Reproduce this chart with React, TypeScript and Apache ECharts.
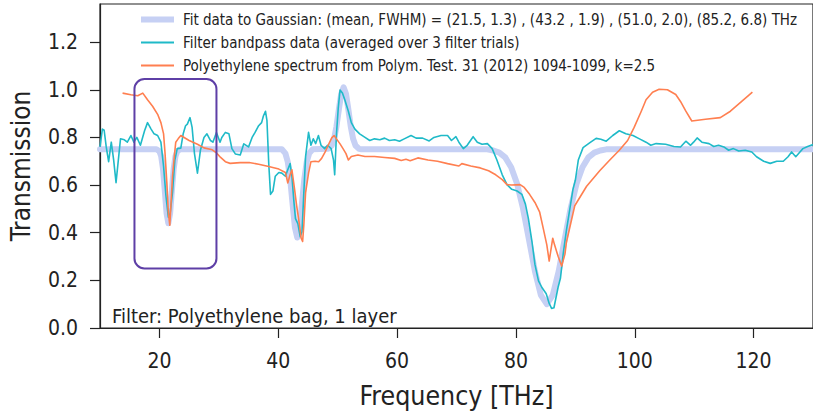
import React, { useEffect, useRef } from "react";
import * as echarts from "echarts";

const FONT = "'DejaVu Sans Condensed', 'DejaVu Sans', sans-serif";

const FIT_NAME = "Fit data to Gaussian: (mean, FWHM) = (21.5, 1.3) , (43.2 , 1.9) , (51.0, 2.0), (85.2, 6.8) THz";
const FILTER_NAME = "Filter bandpass data (averaged over 3 filter trials)";
const PE_NAME = "Polyethylene spectrum from Polym. Test. 31 (2012) 1094-1099, k=2.5";
const NOTE = "Filter: Polyethylene bag, 1 layer";

const xTicks = [20, 40, 60, 80, 100, 120];
const yTicks = [0, 0.2, 0.4, 0.6, 0.8, 1.0, 1.2];

// Gaussian fit curve
const fitFreq = [10, 19.5, 20.0, 20.3, 20.6, 20.9, 21.2, 21.5, 21.8, 22.1, 22.4, 22.7, 23.0, 23.5,
  40.6, 41.2, 41.6, 42.0, 42.4, 42.8, 43.2, 43.6, 44.0, 44.4, 44.8, 45.2, 45.8,
  48.4, 49.0, 49.4, 49.8, 50.2, 50.6, 51.0, 51.4, 51.8, 52.2, 52.6, 53.0, 53.6, 54,
  75.2, 76.2, 77.2, 78.2, 79.2, 80.2, 81.2, 82.2, 83.2, 84.2, 85.2, 86.2, 87.2, 88.2, 89.2, 90.2, 91.2, 92.2, 93.2, 94.2, 95.2, 130];
const fitT = [0.75, 0.75, 0.742, 0.721, 0.668, 0.578, 0.482, 0.44, 0.482, 0.578, 0.668, 0.721, 0.742, 0.75,
  0.75, 0.733, 0.698, 0.628, 0.524, 0.423, 0.38, 0.423, 0.524, 0.628, 0.698, 0.733, 0.75,
  0.752, 0.766, 0.794, 0.846, 0.917, 0.983, 1.01, 0.983, 0.917, 0.846, 0.794, 0.766, 0.752, 0.75,
  0.75, 0.745, 0.736, 0.716, 0.675, 0.605, 0.501, 0.371, 0.238, 0.138, 0.10, 0.138, 0.238, 0.371, 0.501, 0.605, 0.675, 0.716, 0.736, 0.745, 0.75, 0.75];

// Filter bandpass data
const filterFreq = [10.0, 10.4, 10.7, 11.05, 11.45, 11.9, 12.3, 12.7, 13.45, 14.1, 14.6, 15.2, 15.7, 16.2, 16.8, 17.5, 18.0, 18.6, 19.1, 19.7,
  20.25, 20.7, 21.1, 21.5, 21.8, 22.2, 22.6, 23.0, 23.6, 24.0, 24.4, 24.7, 25.15, 25.5, 25.9, 26.4, 26.9, 27.5, 28.0, 28.6,
  29.0, 29.6, 30.2, 30.5, 31.1, 31.7, 32.2, 32.8, 33.6, 34.2, 35.0, 35.6, 36.1, 36.7, 37.2, 37.5, 37.85, 38.1, 38.4, 38.7,
  39.1, 39.5, 40.1, 40.6, 41.2, 41.6, 42.0, 42.3, 42.6, 42.9, 43.3, 43.7, 44.0, 44.25, 44.6, 45.1, 45.5, 45.9, 46.3, 46.76,
  47.2, 47.8, 48.3, 48.9, 49.3, 49.5, 49.8, 50.1, 50.4, 50.8, 51.2, 51.8, 52.3, 52.9, 53.7, 54.6, 55.4, 56.2, 57.1, 57.9,
  58.7, 59.6, 60.4, 61.2, 62.35, 63.2, 64.3, 65.4, 66.2, 67.4, 68.5, 69.15, 69.9, 70.4, 71.15, 71.8, 72.8, 73.5, 74.3, 75.2,
  76.0, 76.8, 77.7, 78.5, 79.3, 80.2, 81.0, 81.6, 82.1, 82.7, 83.2, 83.8, 84.35, 85.1, 85.6, 86.0, 86.4, 87.1, 87.5, 88.0,
  88.5, 89.6, 90.0, 90.5, 91.3, 92.4, 93.5, 94.3, 95.2, 96.3, 97.4, 98.5, 99.7, 100.8, 101.9, 102.7, 103.6, 105.2, 106.6, 107.7,
  108.6, 109.4, 109.9, 110.5, 111.3, 112.5, 113.3, 114.1, 115.0, 115.8, 116.6, 117.5, 118.6, 119.7, 120.5, 121.7, 122.8, 123.9, 125.0, 125.8,
  126.4, 127.1, 127.8, 128.3, 129.1, 130];
const filterT = [0.76, 0.835, 0.83, 0.76, 0.698, 0.78, 0.705, 0.61, 0.794, 0.79, 0.78, 0.808, 0.78, 0.80, 0.767, 0.828, 0.862, 0.835, 0.815, 0.808,
  0.78, 0.678, 0.554, 0.465, 0.48, 0.568, 0.705, 0.753, 0.755, 0.815, 0.849, 0.856, 0.883, 0.842, 0.732, 0.65, 0.746, 0.80, 0.815, 0.787,
  0.78, 0.821, 0.78, 0.80, 0.821, 0.815, 0.753, 0.73, 0.726, 0.773, 0.76, 0.80, 0.821, 0.849, 0.862, 0.89, 0.91, 0.87, 0.69, 0.561,
  0.575, 0.637, 0.653, 0.65, 0.637, 0.664, 0.69, 0.637, 0.54, 0.459, 0.438, 0.383, 0.404, 0.54, 0.719, 0.821, 0.767, 0.794, 0.774, 0.808,
  0.767, 0.753, 0.767, 0.753, 0.705, 0.643, 0.815, 0.924, 0.999, 0.986, 0.958, 0.91, 0.862, 0.835, 0.815, 0.80, 0.787, 0.794, 0.79, 0.797,
  0.787, 0.79, 0.784, 0.794, 0.808, 0.797, 0.797, 0.785, 0.80, 0.808, 0.808, 0.787, 0.803, 0.78, 0.753, 0.767, 0.803, 0.78, 0.771, 0.774,
  0.753, 0.705, 0.643, 0.602, 0.582, 0.575, 0.561, 0.52, 0.459, 0.363, 0.267, 0.198, 0.171, 0.144, 0.103, 0.082, 0.085, 0.171, 0.21, 0.32,
  0.41, 0.582, 0.62, 0.705, 0.757, 0.777, 0.796, 0.792, 0.784, 0.808, 0.828, 0.815, 0.808, 0.794, 0.78, 0.767, 0.774, 0.771, 0.762, 0.76,
  0.784, 0.767, 0.78, 0.798, 0.78, 0.774, 0.762, 0.767, 0.76, 0.746, 0.753, 0.743, 0.746, 0.739, 0.719, 0.70, 0.691, 0.70, 0.70, 0.719,
  0.739, 0.719, 0.739, 0.753, 0.762, 0.77];

// Polyethylene literature spectrum
const peFreq = [13.8, 15.2, 16.35, 17.2, 18.0, 18.85, 19.7, 20.25, 20.7, 20.95, 21.25, 21.5, 21.75, 21.9, 22.2, 22.5, 22.75, 23.15, 23.6, 25.0,
  26.4, 27.5, 28.9, 29.6, 30.3, 31.1, 31.9, 33.6, 35.1, 36.7, 38.4, 40.1, 41.2, 41.6, 42.0, 42.3, 42.75, 43.1, 43.5, 43.85,
  44.1, 44.3, 44.6, 45.1, 45.5, 46.2, 46.8, 47.3, 47.9, 48.4, 49.0, 49.4, 49.8, 50.4, 50.9, 51.4, 51.8, 52.3, 53.4, 54.6,
  56.2, 57.9, 59.6, 60.7, 61.5, 62.2, 63.5, 65.2, 66.8, 68.5, 70.4, 70.9, 72.4, 74.0, 75.4, 76.6, 77.7, 78.5, 79.3, 80.7,
  81.4, 82.3, 83.2, 84.0, 84.6, 85.2, 85.6, 86.2, 86.5, 87.1, 87.7, 88.25, 88.5, 89.9, 91.9, 94.1, 95.8, 97.4, 98.8, 99.9,
  101.1, 101.9, 103.0, 104.1, 105.5, 106.9, 107.7, 108.6, 109.6, 111.9, 114.4, 116.1, 118.0, 119.8];
const peT = [0.986, 0.979, 0.975, 0.986, 0.958, 0.931, 0.897, 0.862, 0.815, 0.732, 0.609, 0.486, 0.431, 0.50, 0.637, 0.719, 0.78, 0.794, 0.808, 0.787,
  0.771, 0.756, 0.748, 0.735, 0.716, 0.698, 0.691, 0.694, 0.695, 0.687, 0.678, 0.667, 0.653, 0.609, 0.643, 0.664, 0.582, 0.513, 0.445, 0.377,
  0.363, 0.431, 0.568, 0.65, 0.698, 0.70, 0.698, 0.712, 0.739, 0.767, 0.798, 0.808, 0.794, 0.773, 0.753, 0.732, 0.705, 0.72, 0.726, 0.72,
  0.72, 0.716, 0.712, 0.703, 0.708, 0.702, 0.714, 0.705, 0.70, 0.69, 0.68, 0.69, 0.68, 0.672, 0.66, 0.643, 0.623, 0.602, 0.60, 0.602,
  0.59, 0.561, 0.527, 0.486, 0.418, 0.349, 0.281, 0.377, 0.349, 0.301, 0.26, 0.31, 0.36, 0.513, 0.595, 0.66, 0.705, 0.746, 0.787, 0.842,
  0.91, 0.958, 0.99, 1.002, 1.0, 0.98, 0.951, 0.91, 0.869, 0.876, 0.883, 0.91, 0.951, 0.99];

// Highlight box: [x0, y0, x1, y1] in data units
const highlightBox = [15.8, 0.25, 29.6, 1.045];

const FIT_COLOR = "#c6d0f4";
const FILTER_COLOR = "#1fbac8";
const PE_COLOR = "#ff7f50";

const zip = (xs: number[], ys: number[]) => xs.map((x, i) => [x, ys[i]]);

export default function App() {
  const ref = useRef<HTMLDivElement>(null);
  useEffect(() => {
    if (!ref.current) return;
    const chart = echarts.init(ref.current, null, { renderer: "svg" });
    chart.setOption({
      animation: false,
      backgroundColor: "#ffffff",
      textStyle: { fontFamily: FONT },
      grid: { left: 100, top: 4, width: 720, height: 331, show: true, borderColor: "#222", borderWidth: 1.2, backgroundColor: "transparent" },
      legend: {
        orient: "vertical",
        left: 141,
        top: 12,
        itemWidth: 33,
        itemHeight: 14,
        itemGap: 8,
        padding: 0,
        symbolKeepAspect: true,
        textStyle: { fontFamily: FONT, fontSize: 15, color: "#222", padding: [0, 0, 0, 4] },
        data: [
          { name: FIT_NAME, icon: "path://M0,0H33V6H0Z", itemStyle: { color: FIT_COLOR } },
          { name: FILTER_NAME, icon: "path://M0,0H33V1.8H0Z", itemStyle: { color: FILTER_COLOR } },
          { name: PE_NAME, icon: "path://M0,0H33V1.8H0Z", itemStyle: { color: PE_COLOR } },
        ],
      },
      xAxis: {
        type: "value",
        min: 10,
        max: 130,
        name: "Frequency [THz]",
        nameLocation: "middle",
        nameGap: 54,
        nameTextStyle: { fontFamily: FONT, fontSize: 26.5, color: "#222" },
        axisLine: { show: true, lineStyle: { color: "#222", width: 1.2 } },
        axisTick: { show: true, length: 10, lineStyle: { color: "#222", width: 1.2 }, customValues: xTicks },
        axisLabel: { fontFamily: FONT, fontSize: 21, color: "#222", margin: 22, customValues: xTicks },
        splitLine: { show: false },
      },
      yAxis: {
        type: "value",
        min: 0,
        max: 1.36,
        name: "Transmission",
        nameLocation: "middle",
        nameGap: 66,
        nameTextStyle: { fontFamily: FONT, fontSize: 26, color: "#222" },
        axisLine: { show: true, lineStyle: { color: "#222", width: 1.2 } },
        axisTick: { show: true, length: 10, lineStyle: { color: "#222", width: 1.2 }, customValues: yTicks },
        axisLabel: { fontFamily: FONT, fontSize: 21, color: "#222", margin: 22, customValues: yTicks, formatter: (v: number) => v.toFixed(1) },
        splitLine: { show: false },
      },
      graphic: [
        { type: "text", left: 112, top: 306, style: { text: NOTE, fontFamily: FONT, fontSize: 20, fill: "#222" } },
      ],
      series: [
        {
          name: FIT_NAME,
          type: "line",
          data: zip(fitFreq, fitT),
          showSymbol: false,
          symbol: "none",
          lineStyle: { color: FIT_COLOR, width: 6, join: "round", cap: "round" },
          itemStyle: { color: FIT_COLOR },
          z: 1,
        },
        {
          name: FILTER_NAME,
          type: "line",
          data: zip(filterFreq, filterT),
          showSymbol: false,
          symbol: "none",
          lineStyle: { color: FILTER_COLOR, width: 1.6, join: "round" },
          itemStyle: { color: FILTER_COLOR },
          z: 2,
        },
        {
          name: PE_NAME,
          type: "line",
          data: zip(peFreq, peT),
          showSymbol: false,
          symbol: "none",
          lineStyle: { color: PE_COLOR, width: 1.6, join: "round" },
          itemStyle: { color: PE_COLOR },
          z: 3,
        },
        {
          type: "custom",
          silent: true,
          z: 4,
          data: [highlightBox],
          encode: { x: [0, 2], y: [1, 3] },
          renderItem: (_params: any, api: any) => {
            const p0 = api.coord([api.value(0), api.value(3)]);
            const p1 = api.coord([api.value(2), api.value(1)]);
            return {
              type: "rect",
              shape: { x: p0[0], y: p0[1], width: p1[0] - p0[0], height: p1[1] - p0[1], r: 10 },
              style: { fill: "none", stroke: "#5e3fa6", lineWidth: 2 },
            };
          },
        },
      ],
    });
    return () => chart.dispose();
  }, []);
  return (
    <div
      ref={ref}
      style={{ position: "fixed", left: 0, top: 0, width: 813, height: 414, overflow: "hidden" }}
    />
  );
}
